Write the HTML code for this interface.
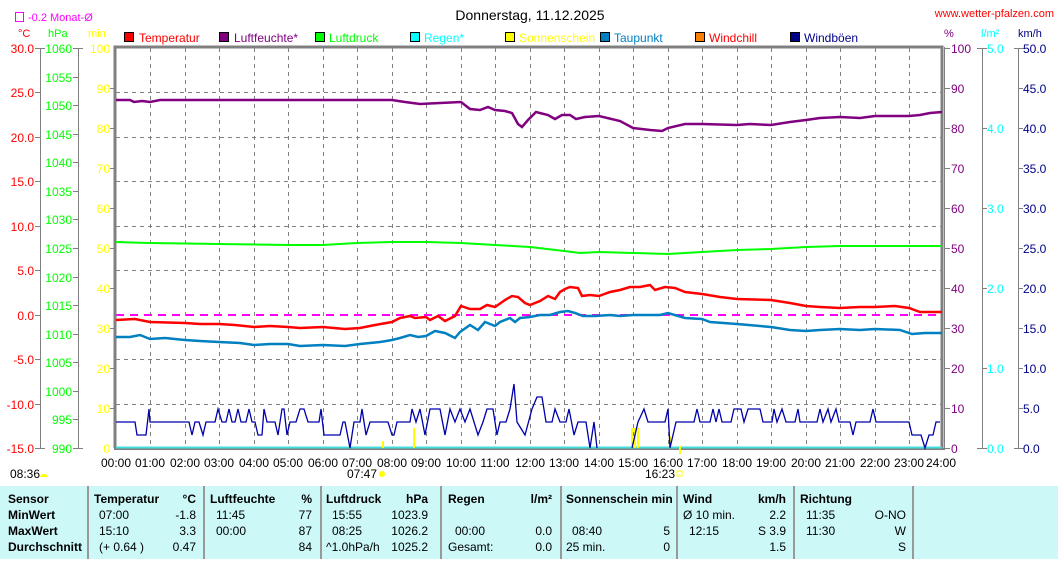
<!DOCTYPE html>
<html><head><meta charset="utf-8"><style>
body{margin:0;background:#fff;width:1058px;height:559px;overflow:hidden;font-family:"Liberation Sans",sans-serif}
svg text{font-family:"Liberation Sans",sans-serif;font-size:12px}
.b{font-weight:bold}
</style></head><body>
<svg width="1058" height="559" viewBox="0 0 1058 559" xmlns="http://www.w3.org/2000/svg">
<text x="530" y="20" text-anchor="middle" font-size="14" style="font-size:14px" fill="#000">Donnerstag, 11.12.2025</text>
<text x="1054" y="17" text-anchor="end" fill="#f00" style="font-size:11px">www.wetter-pfalzen.com</text>
<rect x="15.5" y="12.5" width="8" height="9" fill="none" stroke="#f0f"/>
<text x="28" y="21" fill="#f0f" style="font-size:11px">-0.2 Monat-Ø</text>
<text x="18" y="37" fill="#f00" style="font-size:11px">°C</text>
<text x="48" y="37" fill="#0f0" style="font-size:11px">hPa</text>
<text x="88" y="37" fill="#ff0" style="font-size:11px">min</text>
<text x="944" y="37" fill="#800080" style="font-size:11px">%</text>
<text x="981" y="37" fill="#0ff" style="font-size:11px">l/m²</text>
<text x="1018" y="37" fill="#008" style="font-size:11px">km/h</text>
<!-- legend -->
<g style="font-size:11px">
<rect x="124.5" y="32.5" width="9" height="9" fill="#f00" stroke="#000"/><text x="139" y="42" fill="#f00">Temperatur</text>
<rect x="219.5" y="32.5" width="9" height="9" fill="#800080" stroke="#000"/><text x="234" y="42" fill="#800080">Luftfeuchte*</text>
<rect x="315.5" y="32.5" width="9" height="9" fill="#0f0" stroke="#000"/><text x="329" y="42" fill="#0f0">Luftdruck</text>
<rect x="410.5" y="32.5" width="9" height="9" fill="#0ff" stroke="#000"/><text x="424" y="42" fill="#0ff">Regen*</text>
<rect x="505.5" y="32.5" width="9" height="9" fill="#ff0" stroke="#000"/><text x="519" y="42" fill="#ff0">Sonnenschein</text>
<rect x="600.5" y="32.5" width="9" height="9" fill="#0080c0" stroke="#000"/><text x="614" y="42" fill="#0080c0">Taupunkt</text>
<rect x="695.5" y="32.5" width="9" height="9" fill="#ff8000" stroke="#000"/><text x="709" y="42" fill="#f00">Windchill</text>
<rect x="790.5" y="32.5" width="9" height="9" fill="#008" stroke="#000"/><text x="804" y="42" fill="#008">Windböen</text>
</g>
<!-- grid -->
<g stroke="#808080" stroke-dasharray="4,4" stroke-width="1">
<path d="M150.5 48V448M185.5 48V448M219.5 48V448M254.5 48V448M288.5 48V448M323.5 48V448M357.5 48V448M392.5 48V448M426.5 48V448M461.5 48V448M495.5 48V448M530.5 48V448M564.5 48V448M599.5 48V448M633.5 48V448M668.5 48V448M702.5 48V448M737.5 48V448M771.5 48V448M806.5 48V448M840.5 48V448M875.5 48V448M909.5 48V448"/>
<path d="M116 92.5H942M116 137.5H942M116 181.5H942M116 226.5H942M116 270.5H942M116 359.5H942M116 404.5H942"/>
</g>
<path d="M116 315H942" stroke="#f0f" stroke-width="2" stroke-dasharray="8,6"/>
<!-- frame -->
<path d="M115 448V47H942V448" fill="none" stroke="#808080" stroke-width="3"/>
<path d="M944.5 47V450" stroke="#808080"/>
<path d="M114 449H945" stroke="#808080" stroke-width="2"/>
<!-- left axes -->
<g stroke="#808080"><path d="M40.5 48V448M78.5 48V448"/>
<path d="M35 48.5h10M35 92.5h5M35 137.5h5M35 181.5h5M35 226.5h5M35 270.5h5M35 315.5h5M35 359.5h5M35 404.5h5M35 448.5h10"/>
<path d="M73 48.5h10M73 77.5h5M73 105.5h5M73 134.5h5M73 162.5h5M73 191.5h5M73 219.5h5M73 248.5h5M73 277.5h5M73 305.5h5M73 334.5h5M73 362.5h5M73 391.5h5M73 419.5h5M73 448.5h10"/>
<path d="M110 88.5h5M110 128.5h5M110 168.5h5M110 208.5h5M110 248.5h5M110 288.5h5M110 328.5h5M110 368.5h5M110 408.5h5"/>
<path d="M945 48.5h5M945 88.5h5M945 128.5h5M945 168.5h5M945 208.5h5M945 248.5h5M945 288.5h5M945 328.5h5M945 368.5h5M945 408.5h5M945 448.5h5"/>
<path d="M982.5 48V448M977 48.5h10M982 128.5h5M982 208.5h5M982 288.5h5M982 368.5h5M977 448.5h10"/>
<path d="M1018.5 48V448M1014 48.5h10M1018 88.5h5M1018 128.5h5M1018 168.5h5M1018 208.5h5M1018 248.5h5M1018 288.5h5M1018 328.5h5M1018 368.5h5M1018 408.5h5M1014 448.5h10"/>
</g>
<g fill="#f00" text-anchor="end"><text x="34" y="53">30.0</text><text x="34" y="97">25.0</text><text x="34" y="142">20.0</text><text x="34" y="186">15.0</text><text x="34" y="231">10.0</text><text x="34" y="275">5.0</text><text x="34" y="320">0.0</text><text x="34" y="364">-5.0</text><text x="34" y="409">-10.0</text><text x="34" y="453">-15.0</text></g>
<g fill="#0f0" text-anchor="end"><text x="72" y="53">1060</text><text x="72" y="82">1055</text><text x="72" y="110">1050</text><text x="72" y="139">1045</text><text x="72" y="167">1040</text><text x="72" y="196">1035</text><text x="72" y="224">1030</text><text x="72" y="253">1025</text><text x="72" y="282">1020</text><text x="72" y="310">1015</text><text x="72" y="339">1010</text><text x="72" y="367">1005</text><text x="72" y="396">1000</text><text x="72" y="424">995</text><text x="72" y="453">990</text></g>
<g fill="#ff0" text-anchor="end"><text x="110" y="53">100</text><text x="110" y="93">90</text><text x="110" y="133">80</text><text x="110" y="173">70</text><text x="110" y="213">60</text><text x="110" y="253">50</text><text x="110" y="293">40</text><text x="110" y="333">30</text><text x="110" y="373">20</text><text x="110" y="413">10</text><text x="110" y="453">0</text></g>
<g fill="#800080"><text x="951" y="53">100</text><text x="951" y="93">90</text><text x="951" y="133">80</text><text x="951" y="173">70</text><text x="951" y="213">60</text><text x="951" y="253">50</text><text x="951" y="293">40</text><text x="951" y="333">30</text><text x="951" y="373">20</text><text x="951" y="413">10</text><text x="951" y="453">0</text></g>
<g fill="#0ff"><text x="987" y="53">5.0</text><text x="987" y="133">4.0</text><text x="987" y="213">3.0</text><text x="987" y="293">2.0</text><text x="987" y="373">1.0</text><text x="987" y="453">0.0</text></g>
<g fill="#008"><text x="1023" y="53">50.0</text><text x="1023" y="93">45.0</text><text x="1023" y="133">40.0</text><text x="1023" y="173">35.0</text><text x="1023" y="213">30.0</text><text x="1023" y="253">25.0</text><text x="1023" y="293">20.0</text><text x="1023" y="333">15.0</text><text x="1023" y="373">10.0</text><text x="1023" y="413">5.0</text><text x="1023" y="453">0.0</text></g>
<!-- x labels -->
<g fill="#000" text-anchor="middle"><text x="116" y="467">00:00</text><text x="150" y="467">01:00</text><text x="185" y="467">02:00</text><text x="219" y="467">03:00</text><text x="254" y="467">04:00</text><text x="288" y="467">05:00</text><text x="323" y="467">06:00</text><text x="357" y="467">07:00</text><text x="392" y="467">08:00</text><text x="426" y="467">09:00</text><text x="461" y="467">10:00</text><text x="495" y="467">11:00</text><text x="530" y="467">12:00</text><text x="564" y="467">13:00</text><text x="599" y="467">14:00</text><text x="633" y="467">15:00</text><text x="668" y="467">16:00</text><text x="702" y="467">17:00</text><text x="737" y="467">18:00</text><text x="771" y="467">19:00</text><text x="806" y="467">20:00</text><text x="840" y="467">21:00</text><text x="875" y="467">22:00</text><text x="909" y="467">23:00</text><text x="941" y="467">24:00</text>
<text x="362" y="478">07:47</text><text x="660" y="478">16:23</text></g>
<circle cx="382" cy="474" r="3" fill="#ff0"/><rect x="677" y="471" width="5" height="5" fill="none" stroke="#ff0"/>
<text x="10" y="478" fill="#000">08:36</text><path d="M40 477a4 3 0 0 1 8 0z" fill="#ff0"/>
<!-- series -->
<path d="M116 447.5H942" stroke="#4dd" stroke-width="2"/>
<g fill="#ff0"><rect x="382" y="441" width="2" height="7"/><rect x="413" y="428" width="2" height="20"/><rect x="631" y="428" width="2" height="20"/><rect x="634" y="428" width="2" height="20"/><rect x="637" y="428" width="2" height="20"/><rect x="669" y="436" width="2" height="12"/><rect x="679" y="446" width="2" height="8"/></g>
<path fill="none" stroke="#00a" stroke-width="1.3" d="M116 422H135L137 435H146L149 409L150 422H189L192 435L195 422H199L203 435L206 422H215L218 409L222 422H226L229 409L232 422H235L238 409L241 422H246L249 409L252 422H255L258 435H262L264 409L267 422H275L278 435L282 409H284L287 435L290 422H296L300 409H304L308 422H319L321 409L324 435H340L343 422H345L350 448L354 422H360L362 409L366 435L370 422H388L392 435H394L397 422H410L412 409L416 422L420 409L425 435L430 409H440L445 435L450 409L455 422L460 409L465 422L470 409L478 435L483 422L487 409L493 409L497 435L500 422L506 422L510 409L514 384L517 422L525 435L532 409L537 397H542L546 422H552L555 409L560 422H566L569 409L574 435L578 422H584L586 422L590 448L594 422L597 448M632 448L638 422L644 409L648 422H665L668 409L670 448L673 435L676 422H694L697 409L700 422H710L713 409L716 422L719 409L722 422H731L734 409H741L744 422L748 409H760L763 422H772L774 409L777 422L782 409L786 422H795L798 409L800 422H817L820 409L823 422L828 409L831 422L836 409L839 422H850L853 435L856 422H870L873 409L876 422H909L912 435H921L925 448L929 435H933L936 422H940"/>
<path fill="none" stroke="#0f0" stroke-width="2" d="M116 242L150 243L219 244L288 245L323 245L357 243L392 242L426 242L461 243L495 245L530 247L564 251L580 253L599 252L633 253L668 254L702 252L737 250L771 249L806 247L840 246L875 246L942 246"/>
<path fill="none" stroke="#800080" stroke-width="2.5" d="M116 100L130 100L134 102L142 101L150 102L160 100L392 100L405 102L420 104L440 103L461 102L470 109L480 110L488 107L495 110L505 111L512 113L518 124L522 127L528 120L536 112L548 115L555 119L562 115L570 115L576 119L585 117L599 116L620 121L633 128L650 130L662 131L668 128L685 124L702 124L737 125L750 124L771 125L790 122L806 120L820 118L840 117L860 118L875 116L909 116L920 115L930 113L942 112"/>
<path fill="none" stroke="#0080c0" stroke-width="2.5" d="M116 337L130 337L140 335L150 339L165 338L185 340L200 341L219 342L240 343L254 345L270 344L288 344L300 346L323 345L345 346L360 344L380 342L392 340L400 338L410 335L418 337L426 336L435 331L445 333L455 338L460 332L470 325L478 330L485 322L495 326L500 322L510 318L515 322L520 318L530 317L540 315L550 315L560 312L568 311L575 313L583 316L595 316L610 315L620 316L633 315L650 315L660 315L668 313L685 318L702 319L710 322L737 324L771 327L790 330L806 331L820 330L840 329L860 330L875 329L900 330L912 334L925 333L942 333"/>
<path fill="none" stroke="#f00" stroke-width="2.5" d="M116 320L135 319L150 322L185 323L200 324L219 324L235 325L254 327L270 326L288 327L300 328L323 327L345 329L360 328L375 325L392 322L400 318L410 316L415 318L426 317L430 320L438 316L445 321L455 316L461 306L470 309L480 309L487 305L495 307L505 300L512 296L518 297L525 303L530 305L540 301L548 296L555 299L560 292L565 289L570 287L578 288L582 296L590 295L599 296L610 292L620 290L630 287L640 287L650 285L655 290L665 287L675 288L685 292L702 294L720 297L737 299L771 300L790 303L806 306L820 307L840 308L860 307L875 307L895 306L909 308L920 312L942 312"/>
<!-- table -->
<rect x="0" y="486" width="1058" height="73" fill="#ccf8f8"/>
<g stroke="#999" stroke-width="2"><path d="M88 486V559M204 486V559M321 486V559M441 486V559M561 486V559M677 486V559M794 486V559M913 486V559"/></g>
<g fill="#000" style="font-size:11px">
<text class="b" x="8" y="503">Sensor</text><text class="b" x="8" y="519">MinWert</text><text class="b" x="8" y="535">MaxWert</text><text class="b" x="8" y="551">Durchschnitt</text>
<text class="b" x="94" y="503">Temperatur</text><text class="b" x="196" y="503" text-anchor="end">°C</text>
<text x="99" y="519">07:00</text><text x="196" y="519" text-anchor="end">-1.8</text>
<text x="99" y="535">15:10</text><text x="196" y="535" text-anchor="end">3.3</text>
<text x="99" y="551">(+ 0.64 )</text><text x="196" y="551" text-anchor="end">0.47</text>
<text class="b" x="210" y="503">Luftfeuchte</text><text class="b" x="312" y="503" text-anchor="end">%</text>
<text x="216" y="519">11:45</text><text x="312" y="519" text-anchor="end">77</text>
<text x="216" y="535">00:00</text><text x="312" y="535" text-anchor="end">87</text>
<text x="312" y="551" text-anchor="end">84</text>
<text class="b" x="326" y="503">Luftdruck</text><text class="b" x="428" y="503" text-anchor="end">hPa</text>
<text x="332" y="519">15:55</text><text x="428" y="519" text-anchor="end">1023.9</text>
<text x="332" y="535">08:25</text><text x="428" y="535" text-anchor="end">1026.2</text>
<text x="326" y="551">^1.0hPa/h</text><text x="428" y="551" text-anchor="end">1025.2</text>
<text class="b" x="448" y="503">Regen</text><text class="b" x="552" y="503" text-anchor="end">l/m²</text>
<text x="455" y="535">00:00</text><text x="552" y="535" text-anchor="end">0.0</text>
<text x="448" y="551">Gesamt:</text><text x="552" y="551" text-anchor="end">0.0</text>
<text class="b" x="566" y="503">Sonnenschein min</text>
<text x="572" y="535">08:40</text><text x="670" y="535" text-anchor="end">5</text>
<text x="566" y="551">25 min.</text><text x="670" y="551" text-anchor="end">0</text>
<text class="b" x="683" y="503">Wind</text><text class="b" x="786" y="503" text-anchor="end">km/h</text>
<text x="683" y="519">Ø 10 min.</text><text x="786" y="519" text-anchor="end">2.2</text>
<text x="689" y="535">12:15</text><text x="786" y="535" text-anchor="end">S 3.9</text>
<text x="786" y="551" text-anchor="end">1.5</text>
<text class="b" x="800" y="503">Richtung</text>
<text x="806" y="519">11:35</text><text x="906" y="519" text-anchor="end">O-NO</text>
<text x="806" y="535">11:30</text><text x="906" y="535" text-anchor="end">W</text>
<text x="906" y="551" text-anchor="end">S</text>
</g>
</svg>
</body></html>
